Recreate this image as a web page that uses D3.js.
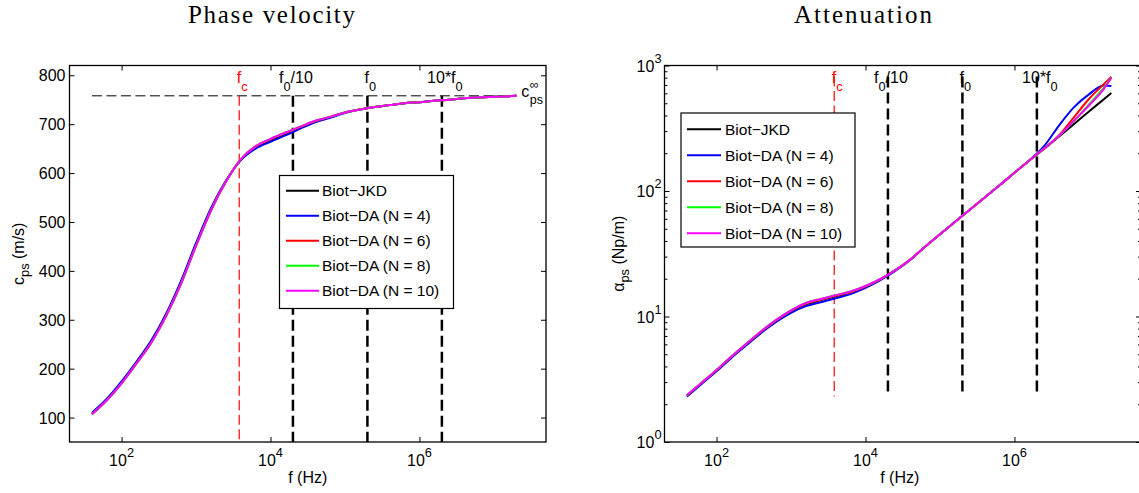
<!DOCTYPE html>
<html><head><meta charset="utf-8">
<script src="https://cdn.jsdelivr.net/npm/d3@7"></script>
<style>body{margin:0;background:#fff}svg{display:block}</style>
</head><body>
<svg id="chart" width="1139" height="493"></svg>
<script>
// ---------------- DATA ----------------
const freqHz = [40, 63, 100, 158, 251, 398, 631, 1000, 1585, 2512, 3981, 6310, 1e4, 15850, 25120, 39810, 63100, 1e5,
  158500, 251200, 398100, 631000, 1e6, 1585000, 2512000, 3981000, 6310000, 1e7, 15850000, 2e7];

// phase velocity c_ps (m/s)
const cJKD = [108,136,171,212,255,310,376,453,525,583,627,653,667,680,693,706,714,724,730,735,739,743,745,748,750,753,755,756,757,758];
const cN4  = [110,138,174,214,258,313,380,457,528,584,626,650,664,677,691,704,713,723,730,735,739,743,745,748,750,753,755,756,757,758];
const cN6  = [107,135,170,211,254,309,375,452,524,582,628,654,669,682,694,706,715,724,730,735,739,743,745,748,750,753,755,756,757,758];
const cN8  = [107,135,170,210,253,308,374,451,523,582,628,655,670,683,695,707,715,724,730,735,739,743,745,748,750,753,755,756,757,758];
const cN10 = [107,135,170,210,253,308,374,451,523,582,628,655,670,683,695,707,715,724,730,735,739,743,745,748,750,753,755,756,757,758];

// attenuation alpha_ps (Np/m)
const aJKD = [2.33,2.94,3.71,4.74,5.99,7.52,9.22,11.0,12.5,13.5,14.5,15.5,17.2,19.7,23.3,28.3,36.0,45.2,56.6,71.0,88.9,111,140,175,217,272,342,430,539,604];
const aN4  = [2.30,2.90,3.66,4.68,5.90,7.40,9.05,10.7,12.1,13.0,14.0,15.1,16.9,19.5,23.1,28.2,36.0,45.2,56.6,71.0,88.9,111,140,176,229,334,466,589,692,688];
const aN6  = [2.35,2.96,3.73,4.77,6.03,7.57,9.30,11.1,12.6,13.6,14.6,15.6,17.3,19.8,23.4,28.4,36.0,45.2,56.6,71.0,88.9,111,140,175,219,278,388,541,711,816];
const aN8  = [2.36,2.97,3.75,4.80,6.07,7.63,9.39,11.2,12.8,13.8,14.8,15.8,17.5,19.9,23.4,28.4,36.0,45.2,56.6,71.0,88.9,111,140,175,219,276,360,490,665,805];
const aN10 = [2.36,2.97,3.75,4.80,6.07,7.63,9.39,11.2,12.8,13.8,14.8,15.8,17.5,19.9,23.4,28.4,36.0,45.2,56.6,71.0,88.9,111,140,175,219,276,364,480,652,801];

const seriesNames  = ["Biot\u2212JKD", "Biot\u2212DA (N = 4)", "Biot\u2212DA (N = 6)", "Biot\u2212DA (N = 8)", "Biot\u2212DA (N = 10)"];
const seriesColors = ["#000000", "#0000ff", "#ff0000", "#00ff00", "#ff00ff"];
const velSeries = [cJKD, cN4, cN6, cN8, cN10];
const attSeries = [aJKD, aN4, aN6, aN8, aN10];

const markerFreqs  = [3800, 2e4, 2e5, 2e6];           // fc, f0/10, f0, 10*f0
const markerLabels = [
  [{t:"f"},{t:"c",sub:true}],
  [{t:"f"},{t:"0",sub:true},{t:"/10"}],
  [{t:"f"},{t:"0",sub:true}],
  [{t:"10*f"},{t:"0",sub:true}]
];
const markerColors = ["#ff0000", "#000000", "#000000", "#000000"];
const cInf = 758;

const freqTicks = [1e2, 1e4, 1e6];
const velTicks  = [100, 200, 300, 400, 500, 600, 700, 800];
const attTicks  = [1, 10, 100, 1000];
const attMinorTicks = [2,3,4,5,6,7,8,9,20,30,40,50,60,70,80,90,200,300,400,500,600,700,800,900];

// ---------------- LAYOUT ----------------
const FONT = '"Liberation Sans", Arial, Helvetica, sans-serif';
const SERIF = '"Liberation Serif", "Times New Roman", serif';
const FS = 16;
const LEG_FS = 15.5;
const L = {x0: 69.5, x1: 546, y0: 65.5, y1: 442};
const R = {x0: 664.5, x1: 1141, y0: 65.5, y1: 442};

const svg = d3.select("#chart");

const xL = d3.scaleLog().domain([20, 5e7]).range([L.x0, L.x1]);
const yL = d3.scaleLinear().domain([50, 820]).range([L.y1, L.y0]);
const xR = d3.scaleLog().domain([20, 5e7]).range([R.x0, R.x1]);
const yR = d3.scaleLog().domain([1, 1000]).range([R.y1, R.y0]);

function rich(g, x, y, parts, opts = {}) {
  const size = opts.size || FS;
  const t = g.append("text").attr("x", x).attr("y", y)
    .attr("font-family", FONT).attr("font-size", size)
    .attr("text-anchor", opts.anchor || "start")
    .attr("fill", opts.color || "#000");
  let shift = 0;
  parts.forEach(p => {
    const target = p.sub ? (opts.subDy || 8) : p.sup ? -(opts.supDy || 8) : 0;
    const ts = t.append("tspan").text(p.t).attr("dy", target - shift);
    if (p.sub || p.sup) ts.attr("font-size", size * 0.8);
    shift = target;
  });
  return t;
}

function frame(box, x, y, xTicks, yTicks, yMinor) {
  const g = svg.append("g");
  const bx = d3.axisBottom(x).tickValues(xTicks).tickSize(-5).tickFormat("");
  const tx = d3.axisTop(x).tickValues(xTicks).tickSize(-5).tickFormat("");
  const ly = d3.axisLeft(y).tickValues(yTicks).tickSize(-5).tickFormat("");
  const ry = d3.axisRight(y).tickValues(yTicks).tickSize(-5).tickFormat("");
  g.append("g").attr("transform", `translate(0,${box.y1})`).call(bx);
  g.append("g").attr("transform", `translate(0,${box.y0})`).call(tx);
  g.append("g").attr("transform", `translate(${box.x0},0)`).call(ly);
  g.append("g").attr("transform", `translate(${box.x1},0)`).call(ry);
  if (yMinor) {
    g.append("g").attr("transform", `translate(${box.x0},0)`).call(d3.axisLeft(y).tickValues(yMinor).tickSize(-3).tickFormat(""));
    g.append("g").attr("transform", `translate(${box.x1},0)`).call(d3.axisRight(y).tickValues(yMinor).tickSize(-3).tickFormat(""));
  }
  g.selectAll(".domain").remove();
  g.selectAll(".tick line").attr("stroke", "#000").attr("stroke-width", 1);
  return g;
}

function border(box) {
  svg.append("rect").attr("x", box.x0).attr("y", box.y0)
    .attr("width", box.x1 - box.x0).attr("height", box.y1 - box.y0)
    .attr("fill", "none").attr("stroke", "#000").attr("stroke-width", 1.3);
}

function xTickLabels(x) {
  freqTicks.forEach(v => {
    rich(svg, x(v), 466, [{t:"10"},{t:String(Math.round(Math.log10(v))),sup:true}], {anchor:"middle", supDy: 9});
  });
}

function legend(x0, y0, w, h, rowY0, dy, lineX0, lineX1, textX) {
  const g = svg.append("g");
  g.append("rect").attr("x", x0).attr("y", y0).attr("width", w).attr("height", h)
    .attr("fill", "#fff").attr("stroke", "#000").attr("stroke-width", 1.2);
  seriesNames.forEach((n, i) => {
    const yy = rowY0 + i * dy;
    g.append("line").attr("x1", lineX0).attr("x2", lineX1).attr("y1", yy).attr("y2", yy)
      .attr("stroke", seriesColors[i]).attr("stroke-width", 2);
    g.append("text").attr("x", textX).attr("y", yy + 5.5).attr("font-family", FONT)
      .attr("font-size", LEG_FS).text(n);
  });
}

// ---------------- LEFT: PHASE VELOCITY ----------------
svg.append("text").attr("x", 271.5).attr("y", 22.5).attr("text-anchor", "middle")
  .attr("font-family", SERIF).attr("font-size", 25).attr("textLength", 167)
  .attr("lengthAdjust", "spacing").text("Phase velocity");

frame(L, xL, yL, freqTicks, velTicks);

// horizontal c_inf line
svg.append("line").attr("x1", xL(freqHz[0])).attr("x2", xL(freqHz[freqHz.length - 1]))
  .attr("y1", yL(cInf)).attr("y2", yL(cInf))
  .attr("stroke", "#000").attr("stroke-width", 1).attr("stroke-dasharray", "10,4.5");

// vertical marker lines
markerFreqs.forEach((f, i) => {
  svg.append("line").attr("x1", xL(f)).attr("x2", xL(f))
    .attr("y1", yL(cInf)).attr("y2", L.y1)
    .attr("stroke", markerColors[i]).attr("stroke-width", i === 0 ? 1.2 : 2.5)
    .attr("stroke-dasharray", i === 0 ? "10,4.5" : "11,5");
});

const lineL = d3.line().x((d, i) => xL(freqHz[i])).y(d => yL(d)).curve(d3.curveMonotoneX);
velSeries.forEach((s, i) => {
  svg.append("path").attr("d", lineL(s)).attr("fill", "none")
    .attr("stroke", seriesColors[i]).attr("stroke-width", 2);
});

markerFreqs.forEach((f, i) => {
  rich(svg, xL(f) + 3, 83, markerLabels[i], {anchor: "middle", color: markerColors[i], subDy: 8});
});

// c_ps^inf label
{
  const x0 = xL(freqHz[freqHz.length - 1]) + 5, yb = yL(cInf) + 1.5;
  const tc = svg.append("text").attr("x", x0).attr("y", yb).attr("font-family", FONT).attr("font-size", FS).text("c");
  const w = tc.node().getComputedTextLength();
  svg.append("text").attr("x", x0 + w + 0.5).attr("y", yb - 8).attr("font-family", FONT).attr("font-size", 12.5).text("\u221e");
  svg.append("text").attr("x", x0 + w + 0.5).attr("y", yb + 7).attr("font-family", FONT).attr("font-size", 12.5).text("ps");
}

legend(279.5, 175.5, 174, 133, 190.7, 25, 286, 319, 322);
border(L);

velTicks.forEach(v => {
  svg.append("text").attr("x", L.x0 - 4).attr("y", yL(v) + 6).attr("text-anchor", "end")
    .attr("font-family", FONT).attr("font-size", FS).text(v);
});
xTickLabels(xL);
rich(svg, (L.x0 + L.x1) / 2, 483, [{t:"f (Hz)"}], {anchor: "middle"});
{
  const g = svg.append("g").attr("transform", `translate(24,${(L.y0 + L.y1) / 2}) rotate(-90)`);
  rich(g, 0, 0, [{t:"c"},{t:"ps",sub:true},{t:" (m/s)"}], {anchor: "middle", subDy: 5});
}

// ---------------- RIGHT: ATTENUATION ----------------
svg.append("text").attr("x", 863).attr("y", 22.5).attr("text-anchor", "middle")
  .attr("font-family", SERIF).attr("font-size", 25).attr("textLength", 138)
  .attr("lengthAdjust", "spacing").text("Attenuation");

frame(R, xR, yR, freqTicks, attTicks, attMinorTicks);

const allAtt = attSeries.flat();
const aMax = d3.max(allAtt), aMin = d3.min(allAtt);
markerFreqs.forEach((f, i) => {
  svg.append("line").attr("x1", xR(f)).attr("x2", xR(f))
    .attr("y1", yR(aMax)).attr("y2", yR(aMin))
    .attr("stroke", markerColors[i]).attr("stroke-width", i === 0 ? 1.2 : 2.5)
    .attr("stroke-dasharray", i === 0 ? "10,4.5" : "11,5");
});

const lineR = d3.line().x((d, i) => xR(freqHz[i])).y(d => yR(d)).curve(d3.curveMonotoneX);
attSeries.forEach((s, i) => {
  svg.append("path").attr("d", lineR(s)).attr("fill", "none")
    .attr("stroke", seriesColors[i]).attr("stroke-width", 2);
});

markerFreqs.forEach((f, i) => {
  rich(svg, xR(f) + 3, 83, markerLabels[i], {anchor: "middle", color: markerColors[i], subDy: 8});
});

legend(681, 113, 174, 134, 129.3, 26, 687, 721, 725);
border(R);

attTicks.forEach(v => {
  rich(svg, R.x0 - 3, yR(v) + 6, [{t:"10"},{t:String(Math.round(Math.log10(v))),sup:true}], {anchor: "end", supDy: 9});
});
xTickLabels(xR);
rich(svg, (R.x0 + R.x1) / 2 - 3, 483, [{t:"f (Hz)"}], {anchor: "middle"});
{
  const g = svg.append("g").attr("transform", `translate(624,${(R.y0 + R.y1) / 2}) rotate(-90)`);
  rich(g, 0, 0, [{t:"\u03b1"},{t:"ps",sub:true},{t:" (Np/m)"}], {anchor: "middle", subDy: 5});
}
</script>
</body></html>
